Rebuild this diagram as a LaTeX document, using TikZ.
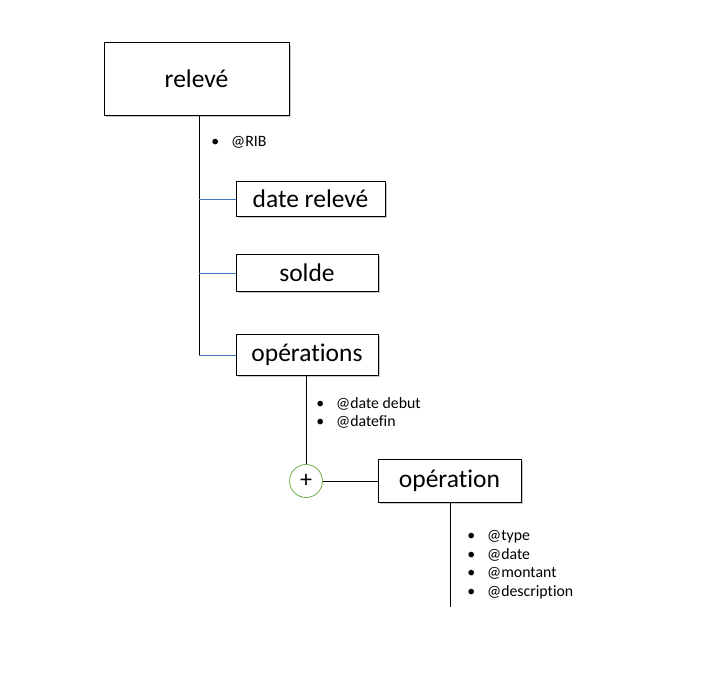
\documentclass[tikz,border=0pt]{standalone}
\usepackage{fontspec}
\setmainfont[Ligatures={NoCommon}]{Carlito}
\usetikzlibrary{shadows}
\definecolor{linkblue}{HTML}{4472C4}
\definecolor{circgreen}{HTML}{70AD47}
\tikzset{
  box/.style={draw=black, line width=1pt, fill=white, inner sep=0pt,
    font=\fontsize{25.5}{29}\selectfont,
    drop shadow={shadow xshift=2pt, shadow yshift=-2pt, opacity=0.35, fill=black!60}},
  attr/.style={anchor=west, inner sep=0pt, font=\fontsize{15.8}{18}\selectfont},
  trunk/.style={draw=black, line width=0.8pt},
  branch/.style={draw=linkblue, line width=0.8pt},
  plus/.style={draw=circgreen, line width=0.8pt, circle, minimum size=33pt, inner sep=0pt, fill=white,
    font=\fontsize{24}{26}\selectfont}
}
\newcommand{\bul}[1]{\llap{\textbullet\hspace{12pt}}#1}
\begin{document}
\begin{tikzpicture}[x=1pt,y=-1pt]
\useasboundingbox (0,0) rectangle (708,685);
% boxes
\node[box, minimum width=185pt, minimum height=72pt] (releve) at (196.5,79) {relevé};
\node[box, minimum width=149pt, minimum height=35pt] (date) at (310.5,198.5) {date relevé};
\node[box, minimum width=142pt, minimum height=37pt] (solde) at (307,272.5) {solde};
\node[box, minimum width=142pt, minimum height=41pt] (ops) at (307,354.5) {opérations};
\node[box, minimum width=143pt, minimum height=43pt] (op) at (449.5,480.5) {opération};
\node[plus] (plus) at (306,481) {\raisebox{1pt}{+}};
% coordinates
\coordinate (t0) at (199,115);
\coordinate (t1) at (199,199);
\coordinate (t2) at (199,273);
\coordinate (t3) at (199,355);
\coordinate (o0) at (306,375);
\coordinate (p0) at (450,502);
\coordinate (p1) at (450,607);
% connectors
\draw[trunk] (t0) -- (t3);
\draw[branch] (t1) -- (date.west |- t1);
\draw[branch] (t2) -- (solde.west |- t2);
\draw[branch] (t3) -- (ops.west |- t3);
\draw[trunk] (o0) -- (plus.north);
\draw[trunk] (plus.east) -- (op.west |- plus.east);
\draw[trunk] (p0) -- (p1);
% attributes
\node[attr] (rib) at (231,142) {\bul{@RIB}};
\node[attr] (dd) at (336,404) {\bul{@date debut}};
\node[attr] (df) at (336,422) {\bul{@datefin}};
\node[attr] (a1) at (487,537) {\bul{@type}};
\node[attr] (a2) at (487,555) {\bul{@date}};
\node[attr] (a3) at (487,573) {\bul{@montant}};
\node[attr] (a4) at (487,592) {\bul{@description}};
\end{tikzpicture}
\end{document}
